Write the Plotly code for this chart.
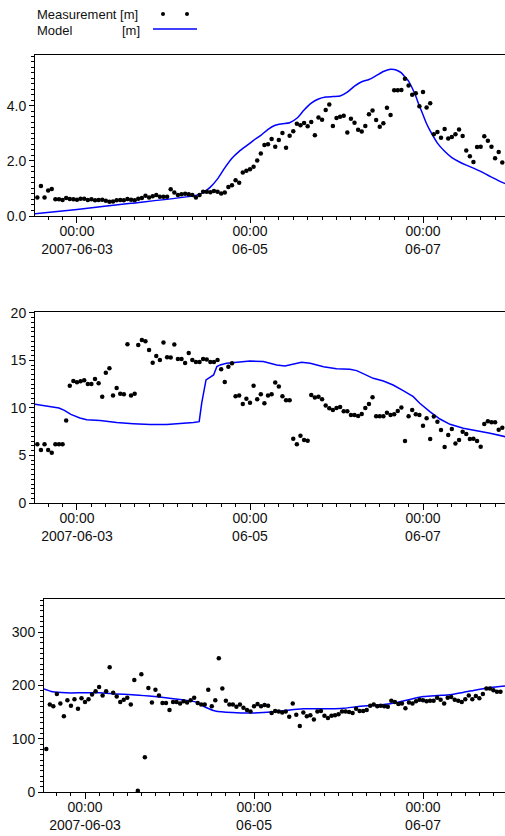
import plotly.graph_objects as go
import pandas as pd

W, H = 505, 836
BASE = pd.Timestamp("2007-06-03 00:00")
MEAS_START_HOUR = -11  # first hourly measurement relative to BASE

# ---------------- data ----------------
meas_level = [
    0.67, 1.09, 0.67, 0.93, 0.98,
    0.61, 0.61, 0.58, 0.65, 0.62, 0.61, 0.59, 0.63, 0.63, 0.58, 0.61, 0.57, 0.58, 0.59, 0.55, 0.52,
    0.53, 0.57, 0.58, 0.57, 0.62, 0.59, 0.57, 0.63, 0.65, 0.74, 0.67, 0.72, 0.76, 0.70, 0.70, 0.70,
    0.97, 0.85, 0.76, 0.79, 0.81, 0.79, 0.76, 0.67, 0.76, 0.88, 0.88, 0.86, 0.91, 0.88, 0.82, 0.85,
    1.05, 1.12, 1.30, 1.21, 1.58, 1.64,
    1.70, 1.79, 2.02, 2.27, 2.58, 2.61, 2.80, 2.52, 2.76, 3.02,
    2.48, 2.92, 3.08, 3.35, 3.30, 3.38, 3.26, 3.42, 2.93, 3.58,
    3.50, 3.85, 4.05, 3.27, 3.56, 3.61, 3.64, 3.03, 3.53, 3.39,
    3.13, 3.07, 3.27, 3.70, 3.83, 3.49, 3.24, 3.37, 3.93, 3.67,
    4.57, 4.57, 4.58, 4.99, 4.74, 4.41, 4.46, 3.99, 4.51, 3.94,
    4.10, 2.97, 3.05, 2.84, 3.16, 2.82, 2.87, 2.97, 3.14, 2.91,
    2.38, 2.17, 1.96, 2.51, 2.52, 2.90, 2.73, 2.52, 2.10, 2.33,
    1.94,
]
meas_p2 = [
    6.18, 5.58, 6.18, 5.58, 5.30, 6.18, 6.18, 6.18, 8.67, 12.35,
    12.84, 12.70, 12.81, 12.91, 12.53, 12.53, 13.05, 12.60, 11.19, 13.72,
    14.18, 11.30, 12.11, 11.51, 11.44, 16.70, 11.30, 11.51, 16.63, 17.16,
    17.02, 16.11, 14.77, 15.47, 15.05, 16.88, 15.33, 15.30, 16.67, 15.16,
    15.16, 14.74, 15.79, 15.05, 14.84, 14.84, 15.16, 15.09, 14.84, 14.84,
    15.05, 14.07, 12.74, 14.35, 14.70, 11.23, 11.30, 10.42, 10.98, 10.56,
    12.35, 10.91, 11.44, 10.49, 11.30, 11.44, 12.67, 12.25, 11.23, 10.81,
    10.81, 6.77, 6.18, 7.09, 6.63, 6.56, 11.37, 11.09, 11.19, 10.91,
    10.25, 9.96, 9.79, 10.00, 10.11, 9.65, 9.65, 9.26, 9.26, 9.16,
    9.37, 10.00, 10.42, 11.12, 9.12, 9.12, 9.12, 9.51, 9.26, 9.33,
    9.68, 10.04, 6.53, 9.12, 9.79, 9.33, 9.26, 8.14, 8.91, 6.74,
    9.09, 8.56, 7.68, 5.89, 7.16, 7.79, 6.25, 6.63, 7.51, 7.26,
    6.74, 6.77, 6.53, 5.93, 8.32, 8.60, 8.49, 8.49, 7.72, 7.93,
]
meas_p3 = [
    80.6, 164, 161, 184, 166, 142, 172, 162, 174, 156,
    176, 169, 174, 183, 189, 197, 181, 189, 234, 186,
    179, 169, 173, 177, 164, 210, 2.5, 221, 65, 195,
    168, 192, 181, 167, 167, 154, 169, 169, 166, 170,
    168, 172, 177, 167, 164, 164, 192, 161, 172, 251,
    194, 171, 164, 164, 160, 164, 158, 154, 151, 161,
    165, 161, 163, 162, 148, 152, 151, 149, 151, 141,
    166, 145, 124, 149, 142, 144, 136, 151, 152, 143,
    139, 143, 144, 146, 151, 151, 150, 148, 156, 152,
    152, 154, 162, 164, 161, 162, 161, 160, 171, 169,
    165, 166, 157, 168, 166, 170, 173, 172, 170, 171,
    171, 177, 173, 166, 177, 178, 173, 171, 169, 174,
    181, 174, 180, 176, 184, 194, 194, 191, 188, 188,
]

model1_h = [-12, 0, 15, 33, 35, 37, 39, 41, 43, 45, 47, 49, 51, 53, 55, 57, 59, 61, 63, 65, 67, 69,
            71, 73, 75, 77, 79, 81, 83, 85, 87, 88, 89, 90, 91, 92, 93, 94, 95, 96, 97, 98, 100,
            102, 104, 106, 108, 110, 112, 114, 116, 118, 120]
model1_v = [0.08, 0.24, 0.46, 0.75, 0.85, 1.05, 1.35, 1.75, 2.10, 2.35, 2.55, 2.75, 2.93, 3.15,
            3.30, 3.35, 3.39, 3.55, 3.85, 4.10, 4.25, 4.32, 4.34, 4.36, 4.50, 4.72, 4.88, 4.96,
            5.10, 5.25, 5.33, 5.32, 5.28, 5.20, 5.05, 4.90, 4.65, 4.35, 4.00, 3.68, 3.35, 3.09,
            2.65, 2.35, 2.12, 1.97, 1.85, 1.74, 1.62, 1.48, 1.35, 1.22, 1.12]

model2_h = [-12, -7.6, -5, -3.5, -1.7, 0.8, 2.7, 6.4, 11, 15.6, 20.3, 24.9, 28.6, 32.3, 33.9, 34.6,
            35.8, 36.5, 37.9, 38.8, 39.7, 41.5, 45.2, 48, 51.7, 55.4, 57.7, 60, 62.3, 64.7, 68.4,
            72, 75.7, 77.6, 79.4, 82.2, 85, 87.7, 90.5, 93.3, 95.1, 97.9, 100.7, 103.5, 107.2,
            110.9, 114.6, 118.8, 120]
model2_v = [10.4, 10.14, 10.0, 9.75, 9.33, 8.95, 8.76, 8.67, 8.46, 8.35, 8.25, 8.25, 8.32, 8.46, 8.56,
            10.5, 12.95, 13.1, 13.47, 14.35, 14.53, 14.70, 14.88, 14.95, 14.88, 14.53, 14.42,
            14.63, 14.81, 14.70, 14.35, 14.14, 14.07, 13.93, 13.58, 13.12, 12.84, 12.42, 11.82,
            11.19, 10.49, 9.61, 8.84, 8.28, 7.86, 7.61, 7.33, 6.98, 6.9]

model3_h = [-12, -9.2, -5.4, -0.7, 4, 8.7, 13.4, 18.2, 22.9, 27.6, 31.4, 34.2, 37, 41.8, 47.5,
            50.7, 54.5, 58.2, 62, 65.8, 69.6, 73.4, 77.2, 81, 84.8, 88.6, 92.5, 96.2, 100,
            103.7, 107.6, 111.4, 115.2, 119.4, 121]
model3_v = [194, 188, 186, 186, 186, 184, 182.5, 180, 177, 173, 169, 159, 152, 149, 148, 149,
            151, 154, 156, 156, 156, 157, 160, 162, 164, 168, 174, 179, 181, 182.5, 187, 192,
            196, 199, 200]

major_tick_vals = ["2007-06-03 00:00", "2007-06-05 00:00", "2007-06-07 00:00"]
major_tick_text = ["00:00<br>2007-06-03", "00:00<br>06-05", "00:00<br>06-07"]

# ---------------- helpers ----------------
def meas_times(n):
    return pd.date_range(BASE + pd.Timedelta(hours=MEAS_START_HOUR), periods=n, freq="h")

def hours_to_times(hs):
    return [BASE + pd.Timedelta(hours=h) for h in hs]

BLUE = "#0000ff"
FONT = "Liberation Sans, Arial, sans-serif"
TICKFONT = dict(family=FONT, size=14, color="#111111")

fig = go.Figure()

panels = [
    (meas_level, model1_h, model1_v, "spline"),
    (meas_p2, model2_h, model2_v, "linear"),
    (meas_p3, model3_h, model3_v, "spline"),
]
for i, (meas, mh, mv, shape) in enumerate(panels, start=1):
    xa = "x" if i == 1 else f"x{i}"
    ya = "y" if i == 1 else f"y{i}"
    fig.add_trace(go.Scatter(x=hours_to_times(mh), y=mv, mode="lines",
                             line=dict(color=BLUE, width=1.5, shape=shape, smoothing=0.6),
                             xaxis=xa, yaxis=ya, showlegend=False, hoverinfo="skip"))
    fig.add_trace(go.Scatter(x=meas_times(len(meas)), y=meas, mode="markers",
                             marker=dict(color="black", size=4.5),
                             xaxis=xa, yaxis=ya, showlegend=False, cliponaxis=True))

def px_x(p):
    return p / W

def px_y(p):
    return 1 - p / H

# panel pixel boxes: (left, top, bottom, yrange, dtick, minor, tickformat, xstart, xend)
boxes = [
    (35, 55, 216, [0, 5.85], 2, 0.2, ".1f", "2007-06-02 12:21", "2007-06-07 22:45"),
    (35, 312, 503, [0, 20.1], 5, 0.5, "d", "2007-06-02 12:21", "2007-06-07 22:45"),
    (44, 599, 792, [0, 362], 100, 10, "d", "2007-06-02 12:21", "2007-06-07 23:17"),
]

layout = dict(
    width=W, height=H, margin=dict(l=0, r=0, t=0, b=0),
    paper_bgcolor="white", plot_bgcolor="white", showlegend=False,
    font=dict(family=FONT, color="#111111"),
)
for i, (left, top, bottom, yr, dt, mn, tf, xs, xe) in enumerate(boxes, start=1):
    xk = "xaxis" if i == 1 else f"xaxis{i}"
    yk = "yaxis" if i == 1 else f"yaxis{i}"
    ya = "y" if i == 1 else f"y{i}"
    xa = "x" if i == 1 else f"x{i}"
    layout[xk] = dict(
        domain=[px_x(left), 1], anchor=ya, range=[xs, xe], type="date",
        tickmode="array", tickvals=major_tick_vals, ticktext=major_tick_text,
        ticks="outside", ticklen=6, tickcolor="black", tickwidth=1,
        ticklabelstandoff=-4,
        minor=dict(dtick=4 * 3600 * 1000, tick0="2007-06-03", ticks="outside",
                   ticklen=3, tickcolor="black", showgrid=False),
        showline=True, linecolor="black", linewidth=1, mirror=True,
        showgrid=False, zeroline=False, tickfont=TICKFONT, automargin=False,
    )
    layout[yk] = dict(
        domain=[px_y(bottom), px_y(top)], anchor=xa, range=yr,
        dtick=dt, tick0=0, tickformat=tf,
        ticks="outside", ticklen=5, tickcolor="black", tickwidth=1,
        minor=dict(dtick=mn, tick0=0, ticks="outside", ticklen=3,
                   tickcolor="black", showgrid=False),
        showline=True, linecolor="black", linewidth=1,
        showgrid=False, zeroline=False, tickfont=TICKFONT, automargin=False,
    )

fig.update_layout(**layout)

# ---------------- custom legend ----------------
LEGFONT = dict(family=FONT, size=13, color="#111111")
fig.add_annotation(x=px_x(35), y=px_y(14), xref="paper", yref="paper", text="Measurement [m]",
                   showarrow=False, xanchor="left", yanchor="middle", font=LEGFONT)
fig.add_annotation(x=px_x(35), y=px_y(30), xref="paper", yref="paper", text="Model",
                   showarrow=False, xanchor="left", yanchor="middle", font=LEGFONT)
fig.add_annotation(x=px_x(142), y=px_y(30), xref="paper", yref="paper", text="[m]",
                   showarrow=False, xanchor="right", yanchor="middle", font=LEGFONT)
for cx in (163, 187):
    fig.add_shape(type="circle", xref="paper", yref="paper",
                  x0=px_x(cx - 2), x1=px_x(cx + 2), y0=px_y(14 + 2), y1=px_y(14 - 2),
                  fillcolor="black", line=dict(color="black", width=0))
fig.add_shape(type="line", xref="paper", yref="paper",
              x0=px_x(153), x1=px_x(197), y0=px_y(29), y1=px_y(29),
              line=dict(color=BLUE, width=1.5))

fig.write_html("out.html")
